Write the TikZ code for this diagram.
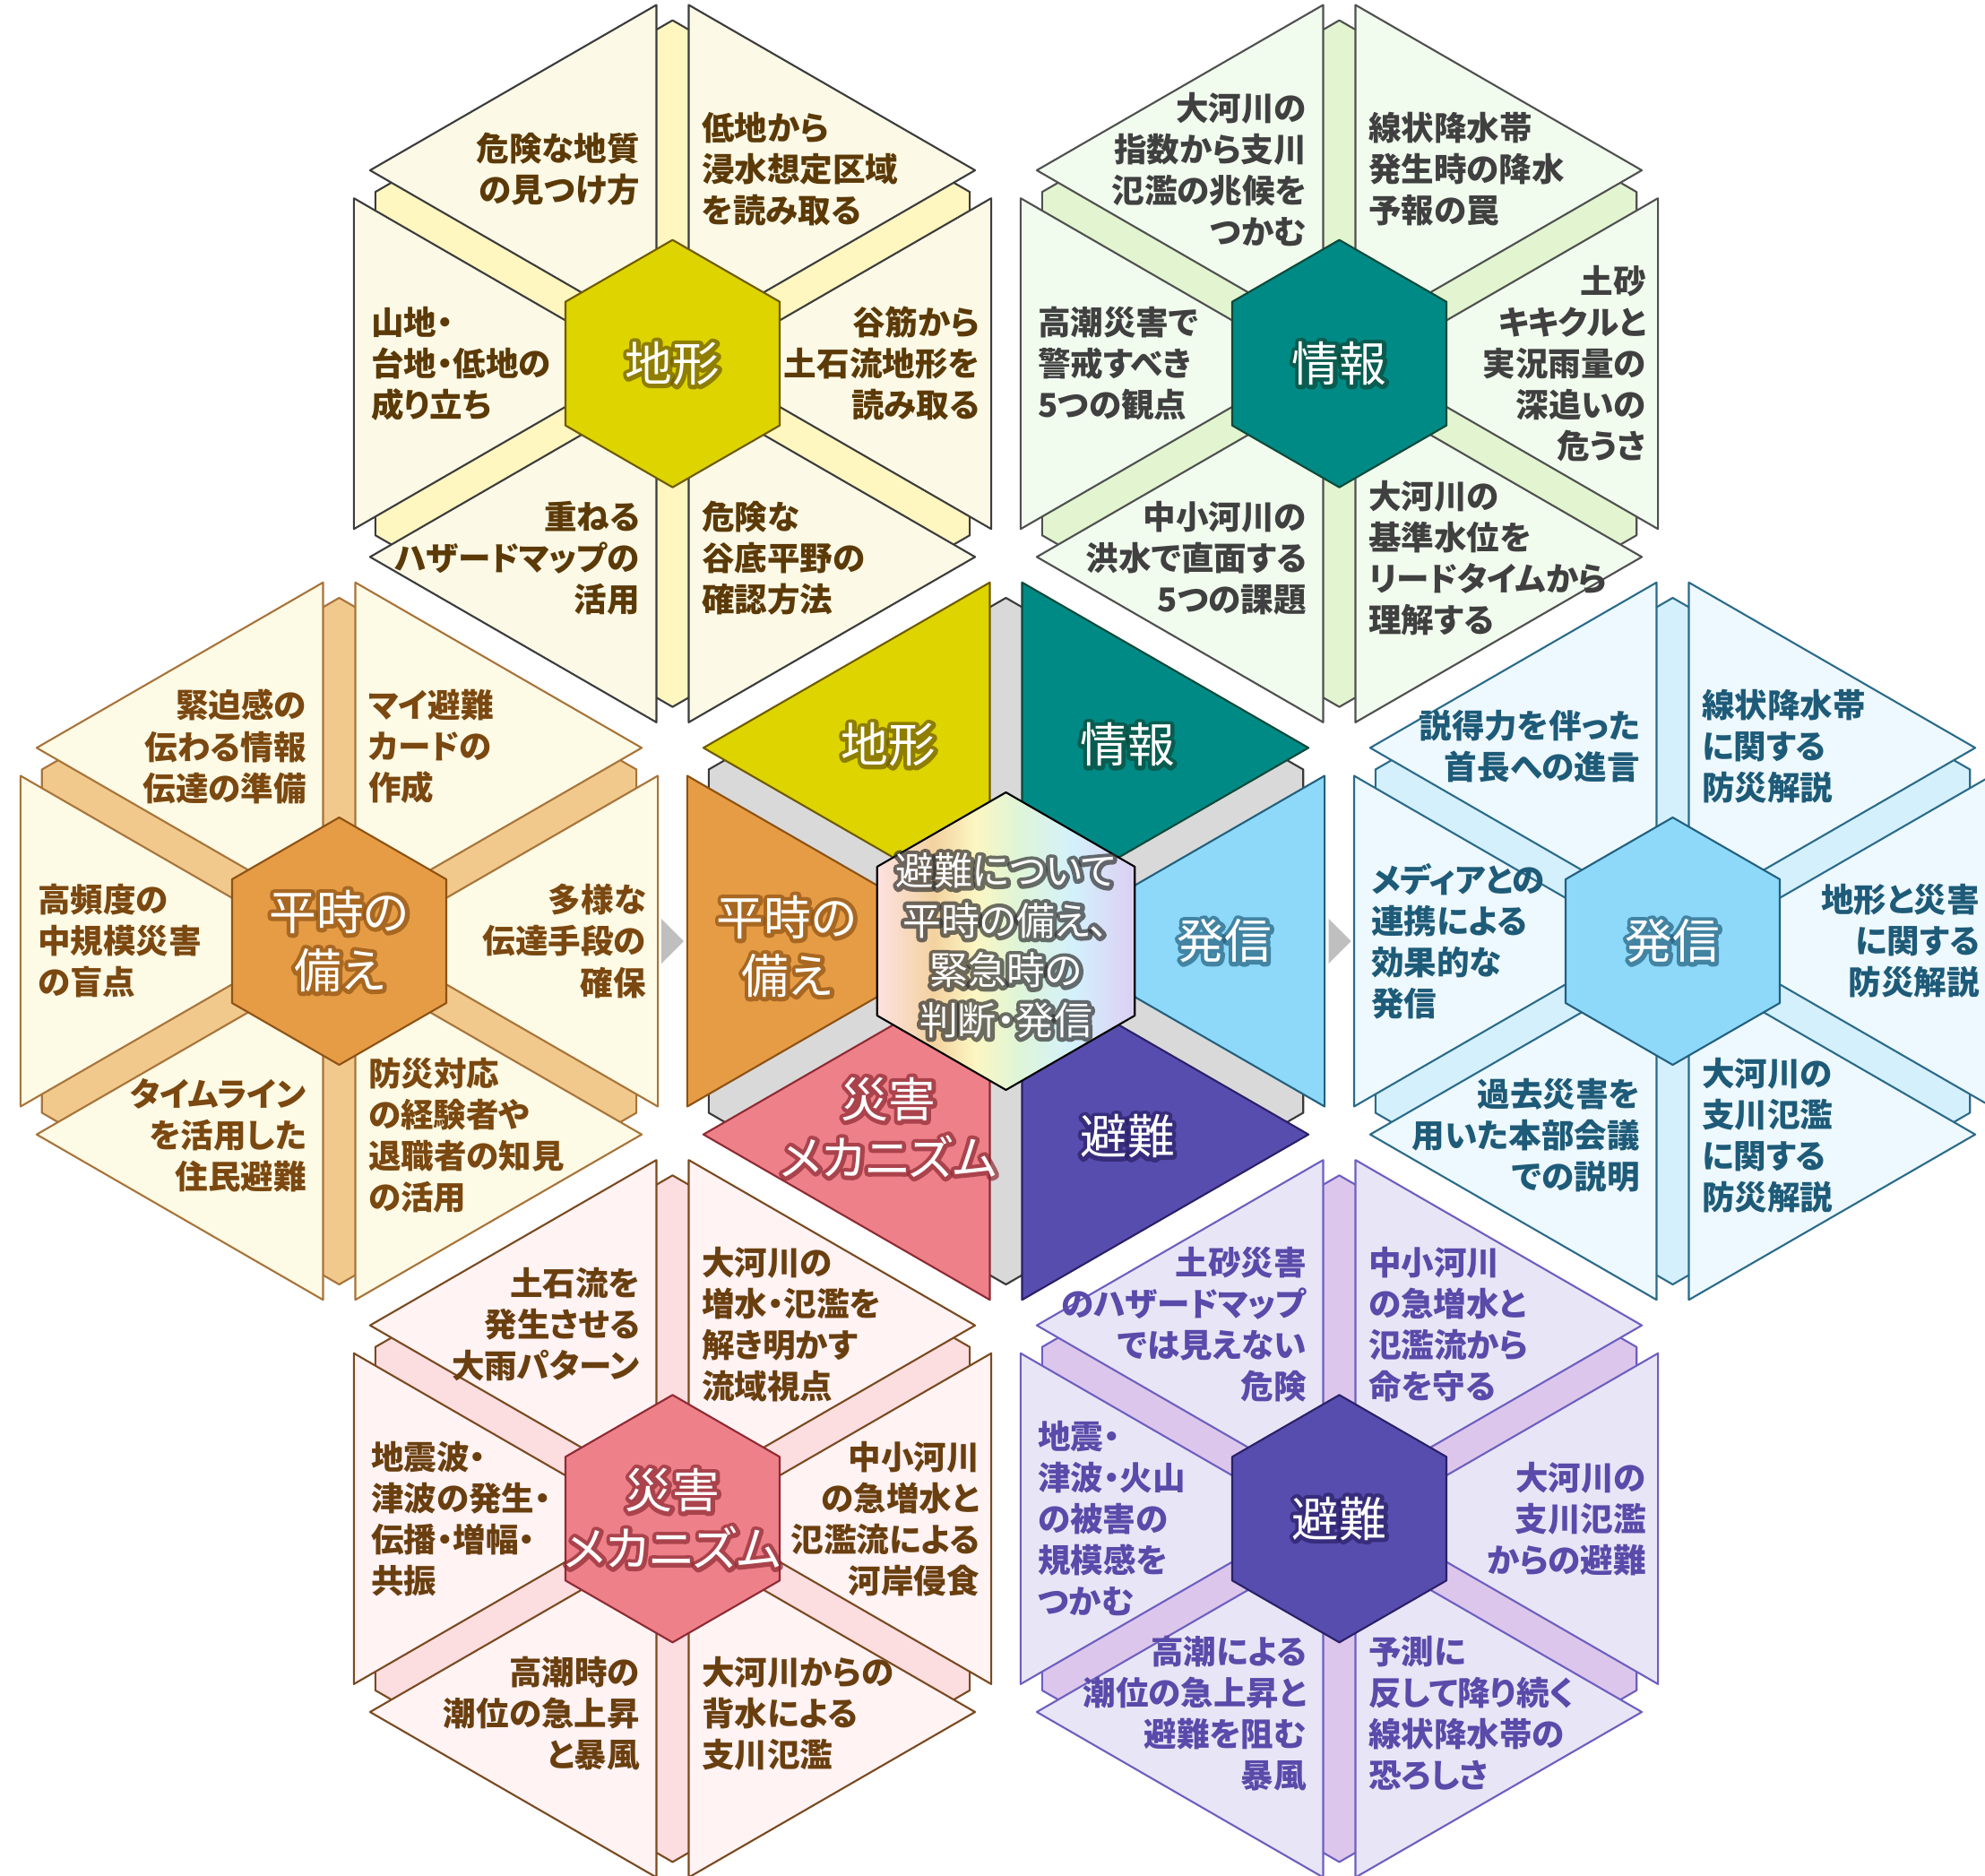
\documentclass[tikz,border=0pt]{standalone}
\usepackage{fontspec}
\usepackage{tikz}
\newfontfamily\jpfont[RawFeature=+palt]{Noto Sans CJK JP}

\definecolor{tikeiHex}{HTML}{DDD400}
\definecolor{tikeiEdge}{HTML}{6E5A00}
\definecolor{tikeiTri}{HTML}{FCFAE7}
\definecolor{tikeiBg}{HTML}{FFF6C0}
\definecolor{tikeiLine}{HTML}{3C3C3C}
\definecolor{tikeiText}{HTML}{5C3A08}

\definecolor{jouhouHex}{HTML}{008A86}
\definecolor{jouhouEdge}{HTML}{0E4A3A}
\definecolor{jouhouTri}{HTML}{F1FCEF}
\definecolor{jouhouBg}{HTML}{E2F4D0}
\definecolor{jouhouLine}{HTML}{505050}
\definecolor{jouhouText}{HTML}{404040}

\definecolor{heijiHex}{HTML}{E69C45}
\definecolor{heijiEdge}{HTML}{8E5214}
\definecolor{heijiTri}{HTML}{FDFAE5}
\definecolor{heijiBg}{HTML}{F1C98C}
\definecolor{heijiLine}{HTML}{A8743A}
\definecolor{heijiText}{HTML}{7A4810}

\definecolor{hasshinHex}{HTML}{8ED9FA}
\definecolor{hasshinEdge}{HTML}{23607E}
\definecolor{hasshinTri}{HTML}{EEF9FF}
\definecolor{hasshinBg}{HTML}{D4F0FC}
\definecolor{hasshinLine}{HTML}{2B6B8A}
\definecolor{hasshinText}{HTML}{1E5B78}

\definecolor{saigaiHex}{HTML}{EE808A}
\definecolor{saigaiEdge}{HTML}{8E2A33}
\definecolor{saigaiTri}{HTML}{FFF3F4}
\definecolor{saigaiBg}{HTML}{FCDDE0}
\definecolor{saigaiLine}{HTML}{7A4A20}
\definecolor{saigaiText}{HTML}{6A3F10}

\definecolor{hinanHex}{HTML}{574DAE}
\definecolor{hinanEdge}{HTML}{2A2068}
\definecolor{hinanTri}{HTML}{E8E6F6}
\definecolor{hinanBg}{HTML}{DCC6EB}
\definecolor{hinanLine}{HTML}{6D5FC0}
\definecolor{hinanText}{HTML}{5A4AAA}

\definecolor{ctrBg}{HTML}{D9D9D9}
\definecolor{ctrLine}{HTML}{3A3A3A}
\definecolor{ctrText}{HTML}{333333}
\definecolor{arrowgray}{HTML}{BFBFBF}
\definecolor{ctrA}{HTML}{FDE1E1}
\definecolor{ctrB}{HTML}{F3D29F}
\definecolor{ctrC}{HTML}{FCF6C2}
\definecolor{ctrD}{HTML}{E0F5D6}
\definecolor{ctrE}{HTML}{D3F1FC}
\definecolor{ctrF}{HTML}{DCCFF2}

\pgfdeclarehorizontalshading{rainbow}{100bp}{color(0bp)=(ctrA); color(25bp)=(ctrA); color(36bp)=(ctrB); color(44bp)=(ctrC); color(52bp)=(ctrD); color(63bp)=(ctrE); color(75bp)=(ctrF); color(100bp)=(ctrF)}

\tikzset{
  sectortext/.style={font=\jpfont\bfseries\fontsize{10.4}{13.1}\selectfont, inner sep=0pt},
  rtext/.style={sectortext, anchor=east, align=right},
  ltext/.style={sectortext, anchor=west, align=left},
  hexlabel/.style={font=\jpfont\fontsize{15}{18.5}\selectfont, align=center, inner sep=0pt},
  ctrlabel/.style={font=\jpfont\fontsize{12.2}{15.8}\selectfont, align=center, inner sep=0pt},
  thinline/.style={line width=0.6pt, line join=round},
}

\def\Rout{3.69}
\def\Rbg{3.83}
\def\Rin{1.38}
\def\Rmid{1.66}
\def\Gap{0.36}
\def\Step{7.44}

\newcommand{\hexpath}[1]{(30:#1) -- (90:#1) -- (150:#1) -- (210:#1) -- (270:#1) -- (330:#1) -- cycle}

\newcommand{\glow}[5][hexlabel]{%
  \node[#1, text=#3, opacity=.7] at (#2) {\special{pdf:literal direct 1 j 1 Tr 2.6 w}#5\special{pdf:literal direct 0 Tr 0 j}};
  \node[#1, text=white] (#4) at (#2) {#5};}

\newcommand{\cluster}[9]{%
  \begin{scope}[shift={(#2)}]
    \draw[thinline, draw=#1Line, fill=#1Bg] \hexpath{\Rbg};
    \foreach \a in {0,60,...,300}{
      \draw[thinline, draw=#1Line, fill=#1Tri, shift={(\a:\Gap)}] (0,0) -- (\a-30:\Rout) -- (\a+30:\Rout) -- cycle;
    }
    \draw[thinline, draw=#1Edge, fill=#1Hex] \hexpath{\Rin};
    \glow{0,0}{#1Edge}{#1-c}{#3}
    \node[rtext, text=#1Text] (#1-0) at (3.43,0) {#4};
    \node[ltext, text=#1Text] (#1-60) at (0.32,2.17) {#5};
    \node[rtext, text=#1Text] (#1-120) at (-0.36,2.17) {#6};
    \node[ltext, text=#1Text] (#1-180) at (-3.37,0) {#7};
    \node[rtext, text=#1Text] (#1-240) at (-0.36,-2.17) {#8};
    \node[ltext, text=#1Text] (#1-300) at (0.32,-2.17) {#9};
  \end{scope}}

\begin{document}
\begin{tikzpicture}
  \useasboundingbox (-11.225,-10.42) rectangle (10.925,10.50);
  \clip (-11.225,-10.42) rectangle (10.925,10.50);
  \fill[white] (-11.225,-10.42) rectangle (10.925,10.50);

  \coordinate (tikei) at (120:\Step);
  \coordinate (jouhou) at (60:\Step);
  \coordinate (hasshin) at (0:\Step);
  \coordinate (hinan) at (-60:\Step);
  \coordinate (saigai) at (-120:\Step);
  \coordinate (heiji) at (180:\Step);

  \cluster{tikei}{tikei}{地形}
    {谷筋から\\土石流地形を\\読み取る}
    {低地から\\浸水想定区域\\を読み取る}
    {危険な地質\\の見つけ方}
    {山地・\\台地・低地の\\成り立ち}
    {重ねる\\ハザードマップの\\活用}
    {危険な\\谷底平野の\\確認方法}

  \cluster{jouhou}{jouhou}{情報}
    {土砂\\キキクルと\\実況雨量の\\深追いの\\危うさ}
    {線状降水帯\\発生時の降水\\予報の罠}
    {大河川の\\指数から支川\\氾濫の兆候を\\つかむ}
    {高潮災害で\\警戒すべき\\5つの観点}
    {中小河川の\\洪水で直面する\\5つの課題}
    {大河川の\\基準水位を\\リードタイムから\\理解する}

  \cluster{heiji}{heiji}{平時の\\備え}
    {多様な\\伝達手段の\\確保}
    {マイ避難\\カードの\\作成}
    {緊迫感の\\伝わる情報\\伝達の準備}
    {高頻度の\\中規模災害\\の盲点}
    {タイムライン\\を活用した\\住民避難}
    {防災対応\\の経験者や\\退職者の知見\\の活用}

  \cluster{hasshin}{hasshin}{発信}
    {地形と災害\\に関する\\防災解説}
    {線状降水帯\\に関する\\防災解説}
    {説得力を伴った\\首長への進言}
    {メディアとの\\連携による\\効果的な\\発信}
    {過去災害を\\用いた本部会議\\での説明}
    {大河川の\\支川氾濫\\に関する\\防災解説}

  \cluster{saigai}{saigai}{災害\\メカニズム}
    {中小河川\\の急増水と\\氾濫流による\\河岸侵食}
    {大河川の\\増水・氾濫を\\解き明かす\\流域視点}
    {土石流を\\発生させる\\大雨パターン}
    {地震波・\\津波の発生・\\伝播・増幅・\\共振}
    {高潮時の\\潮位の急上昇\\と暴風}
    {大河川からの\\背水による\\支川氾濫}

  \cluster{hinan}{hinan}{避難}
    {大河川の\\支川氾濫\\からの避難}
    {中小河川\\の急増水と\\氾濫流から\\命を守る}
    {土砂災害\\のハザードマップ\\では見えない\\危険}
    {地震・\\津波・火山\\の被害の\\規模感を\\つかむ}
    {高潮による\\潮位の急上昇と\\避難を阻む\\暴風}
    {予測に\\反して降り続く\\線状降水帯の\\恐ろしさ}

  \draw[thinline, draw=ctrLine, fill=ctrBg] \hexpath{\Rbg};
  \foreach \a/\cn in {0/hasshin,60/jouhou,120/tikei,180/heiji,240/saigai,300/hinan}{
    \draw[thinline, draw=\cn Edge, fill=\cn Hex, shift={(\a:\Gap)}] (0,0) -- (\a-30:\Rout) -- (\a+30:\Rout) -- cycle;
  }
  \shadedraw[shading=rainbow, thinline, draw=black] \hexpath{\Rmid};

  \glow{-1.31,2.19}{tikeiEdge}{c-tikei}{地形}
  \glow{1.355,2.19}{jouhouEdge}{c-jouhou}{情報}
  \glow{2.44,0}{hasshinEdge}{c-hasshin}{発信}
  \glow{1.355,-2.18}{hinanEdge}{c-hinan}{避難}
  \glow{-1.31,-2.08}{saigaiEdge}{c-saigai}{災害\\メカニズム}
  \glow{-2.445,-0.06}{heijiEdge}{c-heiji}{平時の\\備え}
  \glow[ctrlabel]{0,-0.05}{ctrText}{c-main}{避難について\\平時の備え、\\緊急時の\\判断・発信}

  \fill[arrowgray] (-3.845,0.25) -- (-3.595,0) -- (-3.845,-0.25) -- cycle;
  \fill[arrowgray] (3.60,0.25) -- (3.85,0) -- (3.60,-0.25) -- cycle;
\end{tikzpicture}
\end{document}
